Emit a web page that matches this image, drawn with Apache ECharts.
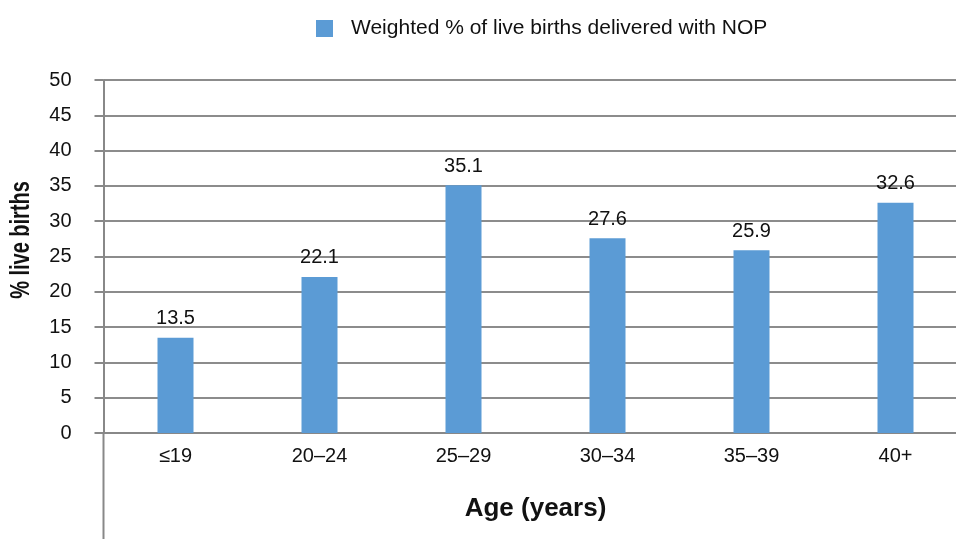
<!DOCTYPE html>
<html><head><meta charset="utf-8">
<script src="https://cdn.jsdelivr.net/npm/echarts@6/dist/echarts.min.js"></script>
<style>html,body{margin:0;padding:0;background:#fff}#c{width:956px;height:539px}</style>
</head><body><div id="c"></div>
<script>
var categories = ['\u226419', '20\u201324', '25\u201329', '30\u201334', '35\u201339', '40+'];
var values = [13.5, 22.1, 35.1, 27.6, 25.9, 32.6];
var seriesName = 'Weighted % of live births delivered with NOP';
var yTicks = [0, 5, 10, 15, 20, 25, 30, 35, 40, 45, 50];

var chart = echarts.init(document.getElementById('c'));
var font = 'Liberation Sans, Arial, sans-serif';
chart.setOption({
  animation: false,
  textStyle: {fontFamily: font},
  legend: {
    left: 311, top: 13, itemWidth: 17, itemHeight: 17,
    icon: 'rect',
    textStyle: {fontSize: 21, color: '#111', padding: [0, 0, 0, 13], fontFamily: font},
    data: [seriesName]
  },
  grid: {left: 103.5, width: 864, top: 80, bottom: 106, containLabel: false, outerBoundsMode: 'none'},
  xAxis: {
    type: 'category', data: categories,
    axisLine: {lineStyle: {color: '#888', width: 2}},
    axisTick: {show: false},
    axisLabel: {fontSize: 20, color: '#111', margin: 13, fontFamily: font},
    name: 'Age (years)', nameLocation: 'middle', nameGap: 63,
    nameTextStyle: {fontSize: 26, fontWeight: 'bold', color: '#111', fontFamily: font}
  },
  yAxis: {
    type: 'value', min: yTicks[0], max: yTicks[yTicks.length - 1], interval: 5,
    axisLine: {show: true, lineStyle: {color: '#888', width: 2}},
    axisTick: {show: true, length: 9, lineStyle: {color: '#888', width: 2}},
    splitLine: {lineStyle: {color: '#8c8c8c', width: 2}},
    axisLabel: {fontSize: 20, color: '#111', margin: 32, fontFamily: font}
  },
  graphic: [
    {type: 'line', shape: {x1: 103.5, y1: 433, x2: 103.5, y2: 539}, style: {stroke: '#888', lineWidth: 2}, silent: true},
    {type: 'text', x: 22, y: 240, rotation: Math.PI / 2, scaleX: 0.74,
     style: {text: '% live births', font: 'bold 27px ' + font, fill: '#111', textAlign: 'center', textVerticalAlign: 'middle'}}
  ],
  series: [{
    name: seriesName, type: 'bar', data: values, barWidth: 36,
    itemStyle: {color: '#5B9BD5'},
    label: {show: true, position: 'top', distance: 9, fontSize: 20, color: '#111', fontFamily: font,
      formatter: function (p) { return p.value.toFixed(1); }}
  }]
});
</script></body></html>
